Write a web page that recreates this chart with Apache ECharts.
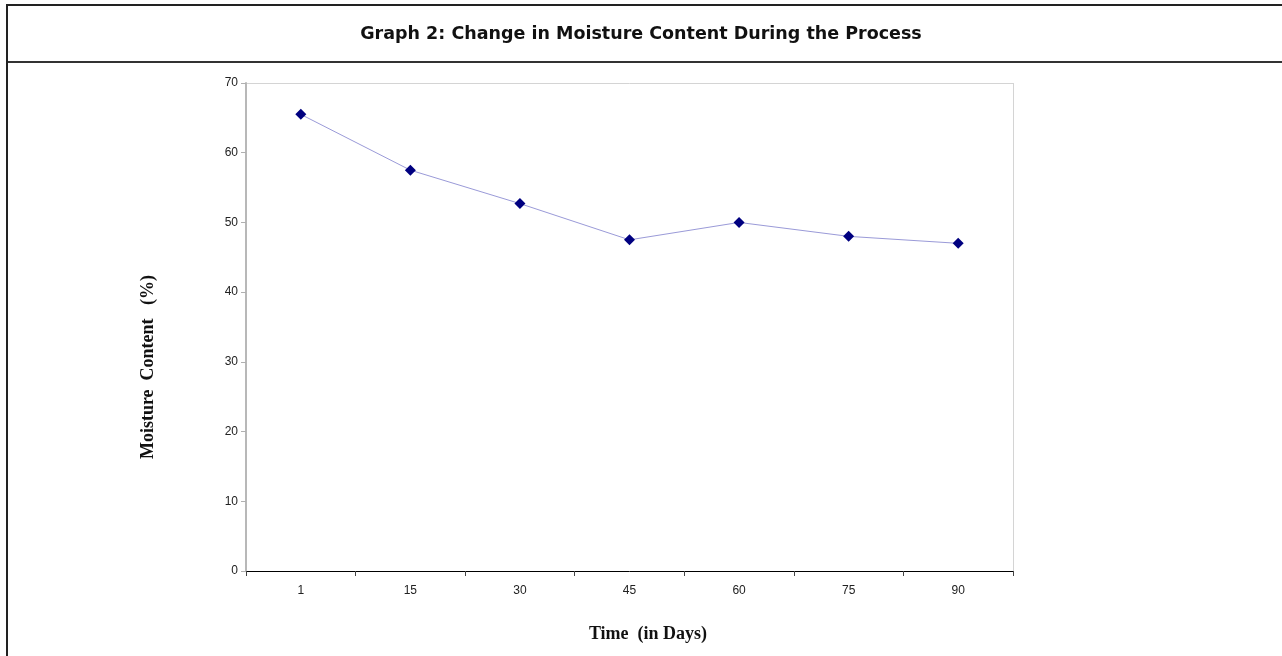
<!DOCTYPE html>
<html>
<head>
<meta charset="utf-8">
<style>
  html, body { margin: 0; padding: 0; background: #fff; }
  #chart { width: 1282px; height: 656px; }
</style>
<script src="https://cdn.jsdelivr.net/npm/echarts@6/dist/echarts.min.js"></script>
</head>
<body>
<div id="chart"></div>
<script>
// Sampling days and measured moisture content (%)
const days = ['1', '15', '30', '45', '60', '75', '90'];
const moisture = [65.5, 57.5, 52.7, 47.5, 50.0, 48.0, 47.0];
const yTicks = { min: 0, max: 70, interval: 10 };

const chart = echarts.init(document.getElementById('chart'), null, { renderer: 'canvas' });

chart.setOption({
  animation: false,
  backgroundColor: '#ffffff',
  title: {
    text: 'Graph 2: Change in Moisture Content During the Process',
    left: 'center',
    top: 20,
    textStyle: {
      fontFamily: 'DejaVu Sans',
      fontWeight: 'bold',
      fontSize: 17.5,
      color: '#111'
    }
  },
  graphic: [
    // outer frame: top rule, title divider, left rule
    { type: 'line', shape: { x1: 6, y1: 5, x2: 1282, y2: 5 }, style: { stroke: '#222', lineWidth: 2 } },
    { type: 'line', shape: { x1: 6, y1: 62, x2: 1282, y2: 62 }, style: { stroke: '#333', lineWidth: 2 } },
    { type: 'line', shape: { x1: 7, y1: 5, x2: 7, y2: 656 }, style: { stroke: '#222', lineWidth: 2 } },
    // plot frame top and right edges
    { type: 'line', shape: { x1: 246, y1: 83.5, x2: 1013.5, y2: 83.5 }, style: { stroke: '#d4d4d4', lineWidth: 1 } },
    { type: 'line', shape: { x1: 1013.5, y1: 83, x2: 1013.5, y2: 571 }, style: { stroke: '#d4d4d4', lineWidth: 1 } },
    // axis titles
    {
      type: 'text', x: 148, y: 367, rotation: Math.PI / 2,
      style: {
        text: 'Moisture  Content   (%)', fill: '#111',
        font: 'bold 18px "Liberation Serif"', textAlign: 'center', textVerticalAlign: 'middle'
      }
    },
    {
      type: 'text', x: 648, y: 634,
      style: {
        text: 'Time  (in Days)', fill: '#111',
        font: 'bold 18px "Liberation Serif"', textAlign: 'center', textVerticalAlign: 'middle'
      }
    }
  ],
  grid: { left: 246, right: 269, top: 83, bottom: 85, containLabel: false },
  xAxis: {
    type: 'category',
    data: days,
    boundaryGap: true,
    axisLine: { show: true, lineStyle: { color: '#000', width: 1 } },
    axisTick: { show: true, length: 5, inside: false, lineStyle: { color: '#444' }, alignWithLabel: false },
    axisLabel: {
      margin: 14,
      fontFamily: 'Liberation Sans',
      fontSize: 12,
      color: '#222'
    },
    splitLine: { show: false }
  },
  yAxis: {
    type: 'value',
    min: yTicks.min,
    max: yTicks.max,
    interval: yTicks.interval,
    axisLine: { show: true, lineStyle: { color: '#b8b8b8', width: 2 } },
    axisTick: { show: true, length: 5, lineStyle: { color: '#b0b0b0' } },
    axisLabel: {
      margin: 8,
      fontFamily: 'Liberation Sans',
      fontSize: 12,
      color: '#222'
    },
    splitLine: { show: false }
  },
  series: [{
    type: 'line',
    data: moisture,
    symbol: 'diamond',
    symbolSize: 11,
    itemStyle: { color: '#000080' },
    lineStyle: { color: '#9a9ad8', width: 1 },
    z: 3
  }]
});
</script>
</body>
</html>
